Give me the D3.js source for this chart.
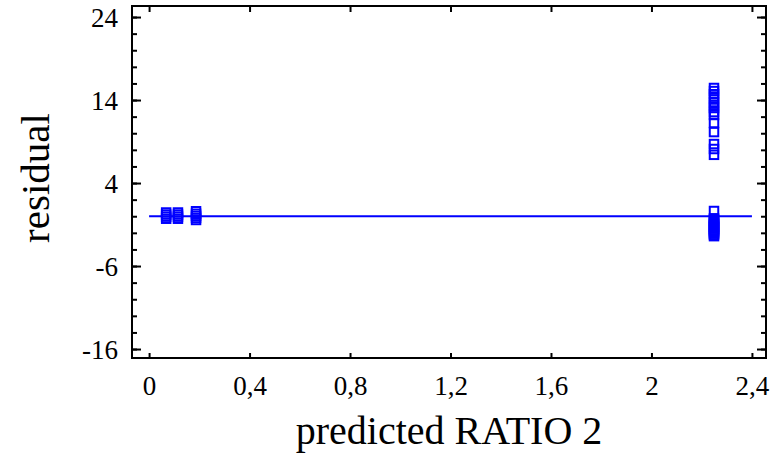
<!DOCTYPE html>
<html>
<head>
<meta charset="utf-8">
<script src="https://cdn.jsdelivr.net/npm/d3@7"></script>
<style>
  body { margin: 0; background: #fff; }
  text { font-family: "Liberation Serif", "Times New Roman", serif; fill: #000; }
</style>
</head>
<body>
<svg id="chart" width="770" height="456"></svg>
<script>
// predicted values (x) and residuals (y)
const predicted = [
  0.068, 0.068, 0.068, 0.068,
  0.115, 0.115, 0.115, 0.115,
  0.187, 0.187, 0.187, 0.187, 0.187,
  2.249, 2.249, 2.249, 2.249, 2.249, 2.249, 2.249,
  2.249, 2.249, 2.249, 2.249, 2.249, 2.249, 2.249,
  2.249,
  2.249, 2.249, 2.249, 2.249, 2.249, 2.249, 2.249, 2.249,
  2.249, 2.249, 2.249, 2.249, 2.249, 2.249, 2.249
]
const residual = [
  -0.3, -0.05, 0.2, 0.45,
  -0.3, -0.05, 0.2, 0.45,
  -0.45, -0.2, 0.05, 0.3, 0.6,
  15.45, 15.08, 14.7, 14.24, 13.76, 13.4, 13.04,
  12.55, 12.2, 11.23, 10.14, 8.7, 8.1, 7.4,
  0.63,
  -0.25, -0.4, -0.55, -0.7, -0.85, -1.0, -1.15, -1.3,
  -1.5, -1.65, -1.8, -1.95, -2.1, -2.25, -2.4
]

const xTicks = [0, 0.4, 0.8, 1.2, 1.6, 2, 2.4]
const yTicks = [-16, -6, 4, 14, 24]
const yMinor = [-16, -14, -12, -10, -8, -6, -4, -2, 0, 2, 4, 6, 8, 10, 12, 14, 16, 18, 20, 22, 24]
const refLine = [0, 2.4]

const box = { left: 132, right: 766, top: 6, bottom: 358 }
const blue = '#0000ff'

const svg = d3.select('#chart')

const x = d3.scaleLinear().domain([-0.068, 2.456]).range([box.left, box.right])
const y = d3.scaleLinear().domain([-17.08, 25.33]).range([box.bottom, box.top])

const fmt = d => String(d).replace('.', ',')

// minor ticks on left and right
svg.append('g')
    .attr('transform', `translate(${box.left},0)`)
    .call(d3.axisRight(y).tickValues(yMinor).tickSize(5).tickFormat(''))
svg.append('g')
    .attr('transform', `translate(${box.right},0)`)
    .call(d3.axisLeft(y).tickValues(yMinor).tickSize(5).tickFormat(''))

// major ticks
svg.append('g')
    .attr('class', 'y axis')
    .attr('transform', `translate(${box.left},0)`)
    .call(d3.axisRight(y).tickValues(yTicks).tickSize(9).tickFormat(fmt))
svg.append('g')
    .attr('transform', `translate(${box.right},0)`)
    .call(d3.axisLeft(y).tickValues(yTicks).tickSize(9).tickFormat(''))
svg.append('g')
    .attr('class', 'x axis')
    .attr('transform', `translate(0,${box.bottom})`)
    .call(d3.axisTop(x).tickValues(xTicks).tickSize(5).tickFormat(fmt))
svg.append('g')
    .attr('transform', `translate(0,${box.top})`)
    .call(d3.axisBottom(x).tickValues(xTicks).tickSize(6).tickFormat(''))

svg.selectAll('.domain').remove()
svg.selectAll('.tick line').attr('stroke', '#000').attr('stroke-width', 2)

// move labels outside the frame
svg.selectAll('.y.axis .tick text')
    .attr('x', -14)
    .attr('dy', '0.34em')
    .attr('text-anchor', 'end')
    .style('font-size', '27px')
svg.selectAll('.x.axis .tick text')
    .attr('y', 37)
    .attr('dy', 0)
    .attr('text-anchor', 'middle')
    .style('font-size', '27px')

svg.append('rect')
    .attr('x', box.left)
    .attr('y', box.top)
    .attr('width', box.right - box.left)
    .attr('height', box.bottom - box.top)
    .attr('fill', 'none')
    .attr('stroke', '#000')
    .attr('stroke-width', 2)

// zero reference line
svg.append('line')
    .attr('x1', x(refLine[0]))
    .attr('x2', x(refLine[1]))
    .attr('y1', y(0))
    .attr('y2', y(0))
    .attr('stroke', blue)
    .attr('stroke-width', 2)

const size = 8.5
svg.selectAll('.pt')
    .data(predicted)
  .enter().append('rect')
    .attr('class', 'pt')
    .attr('x', d => x(d) - size / 2)
    .attr('y', (d, i) => y(residual[i]) - size / 2)
    .attr('width', size)
    .attr('height', size)
    .attr('fill', 'none')
    .attr('stroke', blue)
    .attr('stroke-width', 2)

svg.append('text')
    .attr('x', (box.left + box.right) / 2)
    .attr('y', 444)
    .attr('text-anchor', 'middle')
    .style('font-size', '40px')
    .text('predicted RATIO 2')

svg.append('text')
    .attr('transform', `translate(49,${(box.top + box.bottom) / 2 - 4}) rotate(-90)`)
    .attr('text-anchor', 'middle')
    .style('font-size', '41px')
    .text('residual')
</script>
</body>
</html>
